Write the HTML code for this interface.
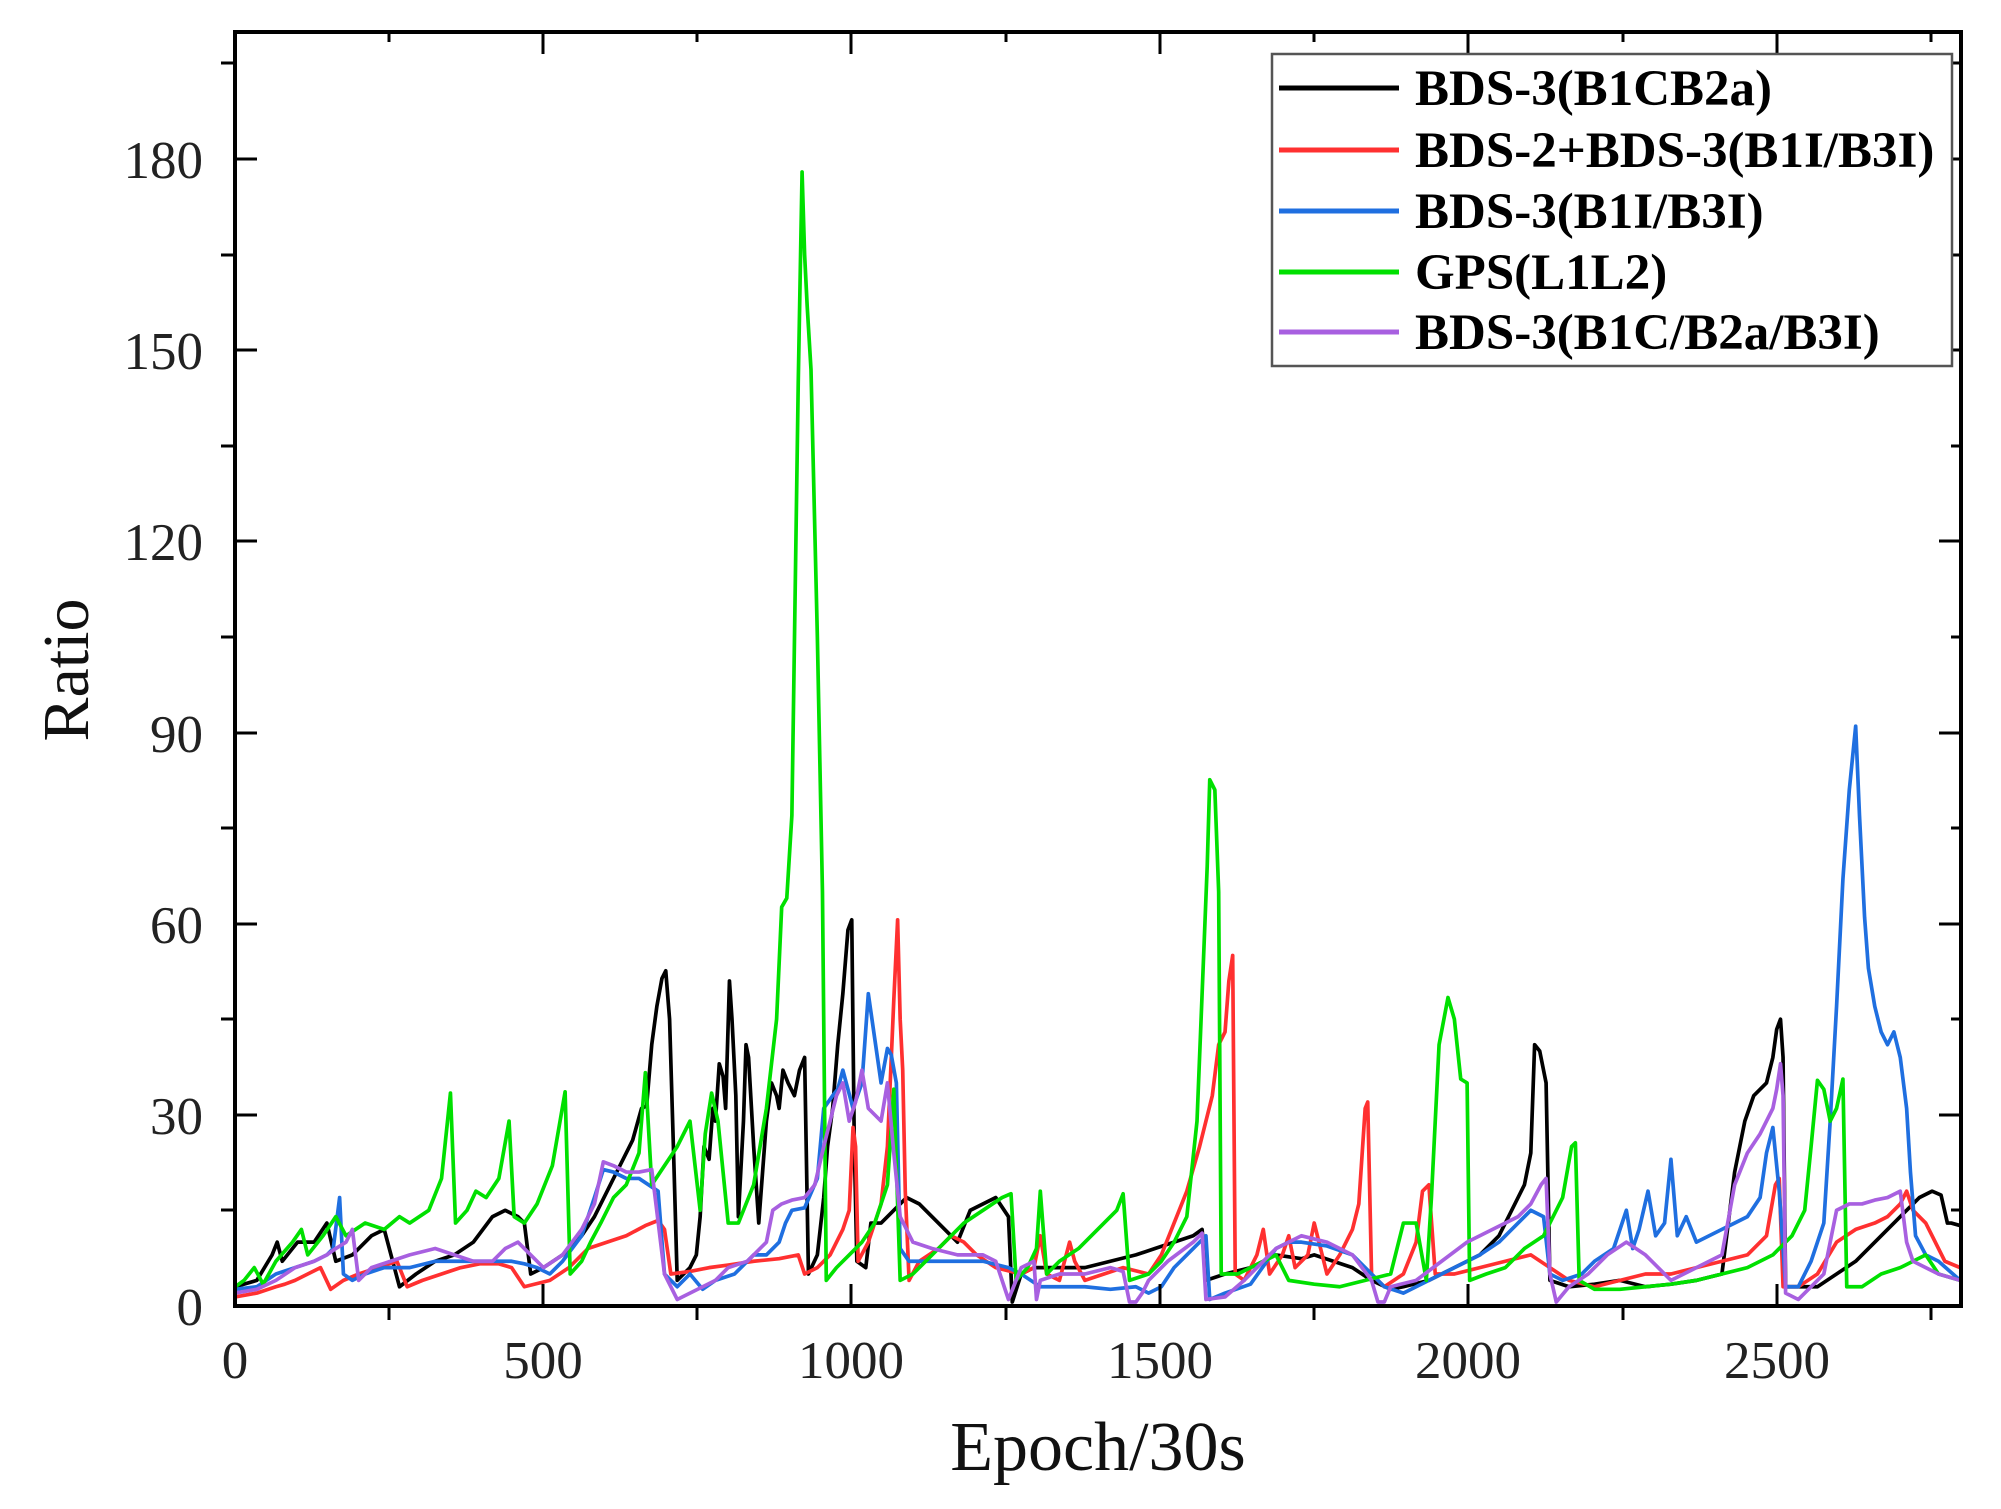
<!DOCTYPE html>
<html><head><meta charset="utf-8"><style>html,body{margin:0;padding:0;background:#fff}svg{display:block}</style></head>
<body>
<svg width="2001" height="1509" viewBox="0 0 2001 1509" xmlns="http://www.w3.org/2000/svg" font-family="'Liberation Serif', serif">
<defs><clipPath id="c"><rect x="235" y="32" width="1726" height="1274"/></clipPath></defs>
<rect width="2001" height="1509" fill="#fff"/>
<g clip-path="url(#c)">
<g transform="translate(2,0) scale(1.274)" fill="none" stroke-width="2.9" stroke-linejoin="round">
<polyline stroke="#000" points="183,1010 200,1005 212,985 216,975 220,990 232,975 245,975 255,960 262,990 275,985 290,970 300,965 312,1010 325,1000 340,990 355,985 370,975 385,955 395,950 405,955 410,960 415,1000 425,995 440,985 455,970 465,955 475,935 485,915 495,895 502,870 506,868 510,820 514,790 518,768 521,762 524,800 527,900 530,1005 540,995 545,985 548,955 551,900 555,910 558,870 560,880 563,835 566,845 568,870 571,770 573,800 576,860 578,955 582,880 584,820 586,830 590,900 594,960 600,880 604,850 608,860 610,870 613,840 617,850 622,860 626,840 630,830 633,1000 640,985 645,940 648,900 652,870 656,820 660,780 664,730 667,722 669,900 671,990 678,995 682,960 690,960 700,950 710,940 720,945 735,960 750,975 760,950 770,945 780,940 790,955 793,1022 800,1000 810,995 830,995 850,995 870,990 890,985 905,980 920,975 935,970 942,965 945,1005 960,1000 980,995 990,990 1000,985 1020,988 1030,985 1045,990 1060,995 1075,1005 1090,1012 1100,1010 1120,1005 1140,995 1160,985 1175,970 1185,950 1195,930 1200,905 1203,820 1207,825 1212,850 1215,1005 1230,1010 1250,1008 1270,1005 1290,1010 1310,1008 1330,1005 1350,1000 1360,920 1368,880 1375,860 1385,850 1390,830 1393,808 1396,800 1398,830 1400,1010 1410,1010 1425,1010 1440,1000 1455,990 1470,975 1485,960 1495,950 1505,940 1515,935 1522,938 1527,960 1530,960 1537,962"/>
<polyline stroke="#ff3030" points="183,1018 200,1015 215,1010 222,1008 230,1005 240,1000 250,995 258,1012 268,1005 280,1000 295,995 310,990 318,1010 330,1005 345,1000 360,995 375,992 390,992 400,995 410,1010 430,1005 445,995 460,980 475,975 490,970 505,962 515,958 520,965 525,1000 540,998 555,995 570,993 590,990 610,988 625,985 630,1000 640,995 650,985 660,965 665,950 668,885 670,900 672,990 680,975 690,945 695,900 700,785 703,722 705,800 707,840 709,935 712,1005 720,990 735,980 745,970 755,975 765,985 780,995 800,1000 810,995 815,970 820,1000 830,1005 838,975 842,990 850,1005 865,1000 880,995 900,1000 910,985 920,960 930,935 940,900 950,860 955,820 960,810 963,770 966,750 968,1000 975,1005 985,985 990,965 995,1000 1005,985 1010,970 1015,995 1025,985 1030,960 1035,980 1040,1000 1050,985 1060,965 1065,945 1070,870 1072,865 1075,1000 1085,1010 1100,1000 1110,975 1115,935 1120,930 1125,1000 1140,1000 1160,995 1180,990 1200,985 1215,995 1230,1005 1250,1010 1270,1005 1290,1000 1310,1000 1330,995 1350,990 1370,985 1385,970 1392,930 1395,925 1398,1010 1410,1010 1425,1000 1440,975 1455,965 1470,960 1480,955 1490,945 1495,935 1500,950 1510,960 1525,990 1537,995"/>
<polyline stroke="#1f6fe0" points="183,1012 200,1010 215,1000 230,995 245,990 255,985 260,980 265,940 268,1000 275,1005 285,1000 300,995 320,995 340,990 360,990 380,990 400,990 410,992 420,995 430,1000 440,990 455,970 465,940 472,918 480,920 490,925 500,925 515,935 520,1000 530,1010 540,1000 550,1012 560,1005 575,1000 590,985 600,985 610,975 615,960 620,950 630,948 640,925 645,870 652,860 656,855 660,840 668,870 675,850 680,780 685,815 690,850 695,823 698,828 702,850 705,980 712,990 730,990 750,990 770,990 790,995 800,1000 815,1010 830,1010 850,1010 870,1012 890,1010 900,1015 910,1010 920,995 930,985 940,975 945,970 948,1020 960,1015 980,1008 1000,980 1010,975 1020,975 1040,978 1060,985 1075,1000 1085,1010 1100,1015 1120,1005 1140,995 1160,985 1175,975 1190,960 1200,950 1210,955 1215,1000 1225,1005 1240,1000 1250,990 1265,980 1275,950 1280,980 1285,965 1292,935 1298,970 1305,960 1310,910 1315,970 1322,955 1330,975 1340,970 1350,965 1360,960 1370,955 1380,940 1385,905 1390,885 1395,935 1400,1010 1410,1010 1420,990 1430,960 1435,880 1440,790 1445,690 1450,620 1455,570 1458,640 1462,720 1465,760 1470,790 1475,810 1480,820 1485,810 1490,830 1495,870 1498,920 1502,970 1510,985 1520,990 1537,1005"/>
<polyline stroke="#00e000" points="183,1010 190,1005 198,995 205,1008 215,990 228,975 235,965 240,985 252,970 262,955 270,970 285,960 300,965 312,955 320,960 335,950 345,925 352,858 356,960 365,950 372,935 380,940 390,925 398,880 402,955 410,960 420,945 432,915 442,857 446,1000 455,990 462,975 470,960 480,940 490,930 500,905 505,842 510,930 520,915 530,900 540,880 548,950 552,890 557,858 562,880 570,960 578,960 590,930 600,870 608,800 612,712 616,705 620,640 625,300 628,135 630,200 632,240 635,290 640,500 644,700 647,1005 655,995 665,985 675,975 685,960 695,930 700,855 705,1005 715,1000 725,990 740,975 755,960 770,950 785,940 792,937 796,1005 805,995 812,980 815,935 820,1000 830,990 845,980 855,970 865,960 875,950 880,937 885,1005 900,1000 910,990 920,975 930,955 938,880 942,780 946,680 948,612 952,620 955,700 957,1000 970,1000 980,995 990,990 1000,985 1010,1005 1030,1008 1050,1010 1070,1005 1090,1000 1100,960 1110,960 1118,1005 1122,940 1128,820 1135,783 1140,800 1145,847 1150,850 1152,1005 1165,1000 1180,995 1195,980 1210,970 1225,940 1232,900 1235,897 1238,1005 1250,1012 1270,1012 1290,1010 1310,1008 1330,1005 1350,1000 1370,995 1390,985 1405,970 1415,950 1420,900 1425,848 1430,855 1435,880 1440,870 1445,847 1448,1010 1460,1010 1475,1000 1490,995 1500,990 1510,985 1520,1000 1537,1005"/>
<polyline stroke="#a860e0" points="183,1015 200,1012 215,1005 230,995 245,990 255,985 262,980 270,975 275,965 280,1005 290,995 305,990 320,985 340,980 355,985 370,990 385,990 395,980 405,975 415,985 425,995 440,985 455,965 465,945 472,912 480,915 490,920 500,920 510,918 520,1000 530,1020 540,1015 550,1010 560,1005 570,995 585,990 600,975 605,950 612,945 620,942 630,940 638,930 645,900 650,880 655,860 660,850 665,880 670,865 675,840 680,870 690,880 695,850 700,905 705,955 715,975 730,980 750,985 770,985 780,990 785,1005 790,1020 800,995 810,990 812,1020 815,1005 830,1000 850,1000 870,995 880,998 885,1022 890,1022 895,1015 900,1005 915,990 935,975 942,968 945,1020 960,1018 975,1005 990,990 1000,980 1010,975 1020,970 1040,975 1060,985 1075,1005 1080,1022 1085,1022 1090,1010 1110,1005 1130,990 1150,975 1170,965 1190,955 1200,945 1208,930 1212,925 1215,1000 1220,1022 1230,1010 1245,1000 1260,985 1275,975 1290,985 1310,1005 1330,995 1350,985 1360,930 1370,905 1380,890 1385,880 1390,870 1393,855 1396,835 1398,860 1400,1015 1410,1020 1430,1000 1440,950 1450,945 1460,945 1470,942 1480,940 1490,935 1495,975 1500,990 1520,1000 1537,1005"/>
</g>
</g>
<g stroke="#000" stroke-width="3">
<path d="M543,1306v-22M851,1306v-22M1160,1306v-22M1468,1306v-22M1777,1306v-22 M543,32v22M851,32v22M1160,32v22M1468,32v22M1777,32v22"/>
<path d="M389,1306v14M697,1306v14M1006,1306v14M1314,1306v14M1623,1306v14M1931,1306v14 M389,32v10M697,32v10M1006,32v10M1314,32v10M1623,32v10M1931,32v10"/>
<path d="M235,1115h22M235,924h22M235,733h22M235,541h22M235,350h22M235,159h22 M1961,1115h-22M1961,924h-22M1961,733h-22M1961,541h-22M1961,350h-22M1961,159h-22"/>
<path d="M235,1210h-14M235,1019h-14M235,828h-14M235,637h-14M235,446h-14M235,255h-14M235,63h-14 M1961,1210h-10M1961,1019h-10M1961,828h-10M1961,637h-10M1961,446h-10M1961,255h-10M1961,63h-10"/>
</g>
<rect x="235" y="32" width="1726" height="1274" fill="none" stroke="#000" stroke-width="4"/>
<g font-size="53" fill="#222" text-anchor="end">
<text x="203" y="1325">0</text><text x="203" y="1134">30</text><text x="203" y="943">60</text><text x="203" y="752">90</text><text x="203" y="560">120</text><text x="203" y="369">150</text><text x="203" y="178">180</text>
</g>
<g font-size="53" fill="#222" text-anchor="middle">
<text x="235" y="1378">0</text><text x="543" y="1378">500</text><text x="851" y="1378">1000</text><text x="1160" y="1378">1500</text><text x="1468" y="1378">2000</text><text x="1777" y="1378">2500</text>
</g>
<text x="1098" y="1470" font-size="70" text-anchor="middle" fill="#111">Epoch/30s</text>
<text transform="translate(88,670) rotate(-90)" font-size="66" text-anchor="middle" fill="#111">Ratio</text>
<rect x="1272" y="54" width="680" height="312" fill="#fff" stroke="#555" stroke-width="2.5"/>
<g stroke-width="5">
<line x1="1279" y1="88" x2="1399" y2="88" stroke="#000"/>
<line x1="1279" y1="150" x2="1399" y2="150" stroke="#ff3030"/>
<line x1="1279" y1="211" x2="1399" y2="211" stroke="#1f6fe0"/>
<line x1="1279" y1="272" x2="1399" y2="272" stroke="#00e000"/>
<line x1="1279" y1="332" x2="1399" y2="332" stroke="#a860e0"/>
</g>
<g font-size="51" font-weight="bold" fill="#000">
<text x="1415" y="105">BDS-3(B1CB2a)</text>
<text x="1415" y="167">BDS-2+BDS-3(B1I/B3I)</text>
<text x="1415" y="228">BDS-3(B1I/B3I)</text>
<text x="1415" y="289">GPS(L1L2)</text>
<text x="1415" y="349">BDS-3(B1C/B2a/B3I)</text>
</g>
</svg>
</body></html>
